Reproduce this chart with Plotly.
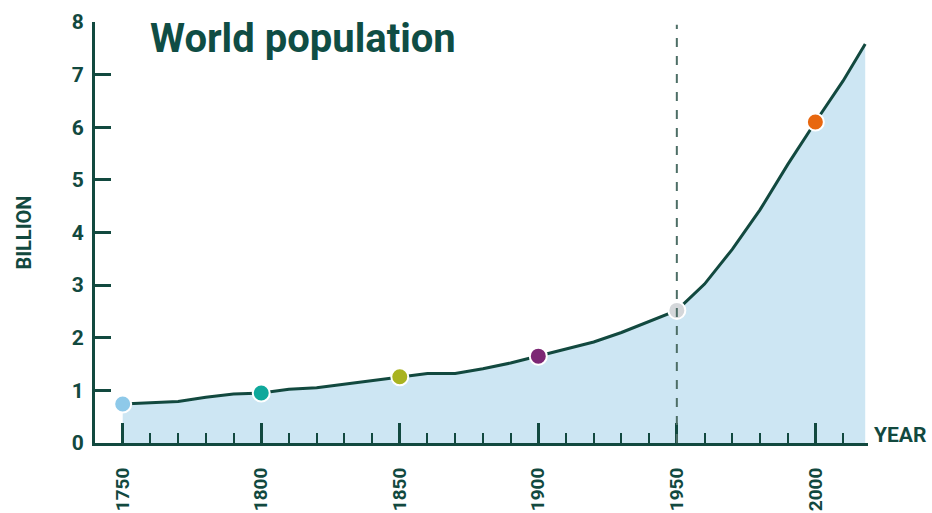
import plotly.graph_objects as go

# World population, billions
years = [1750, 1760, 1770, 1780, 1790, 1800, 1810, 1820, 1830, 1840, 1850,
         1860, 1870, 1880, 1890, 1900, 1910, 1920, 1930, 1940, 1950,
         1960, 1970, 1980, 1990, 2000, 2010, 2018]
population = [0.74, 0.76, 0.79, 0.87, 0.93, 0.95, 1.02, 1.05, 1.12, 1.19, 1.26,
              1.32, 1.32, 1.41, 1.52, 1.65, 1.78, 1.92, 2.10, 2.31, 2.52,
              3.02, 3.68, 4.43, 5.29, 6.10, 6.88, 7.58]

marker_years = [1750, 1800, 1850, 1900, 1950, 2000]
marker_colors = ["#8ec9e9", "#0fa89b", "#a9b320", "#7c2774", "#d4d7da", "#e8670f"]
marker_values = [population[years.index(y)] for y in marker_years]

split_year = 1950
x_ticks = [1750, 1800, 1850, 1900, 1950, 2000]
y_ticks = [0, 1, 2, 3, 4, 5, 6, 7, 8]

DARK = "#12493f"
FONT = "Roboto, Liberation Sans, sans-serif"


def font(size, color=DARK):
    return dict(family=FONT, size=size, color=color, weight="bold")


fig = go.Figure()
fig.add_trace(go.Scatter(
    x=years, y=population, mode="lines",
    line=dict(color=DARK, width=3),
    fill="tozeroy", fillcolor="#cde6f3",
    hoverinfo="x+y", showlegend=False,
))
fig.add_shape(type="line", x0=split_year, x1=split_year, y0=0, y1=7.95,
              xref="x", yref="y", layer="above",
              line=dict(color="#4d6e66", width=2, dash="dash"))
fig.add_trace(go.Scatter(
    x=marker_years, y=marker_values, mode="markers",
    marker=dict(size=17, color=marker_colors, line=dict(color="white", width=2)),
    showlegend=False,
))

fig.update_xaxes(
    range=[1740, 2019], tickvals=x_ticks, tickangle=-90, automargin=False,
    showline=True, linecolor=DARK, linewidth=3,
    ticks="inside", ticklen=20, tickwidth=3, tickcolor=DARK,
    minor=dict(dtick=10, tick0=1750, ticks="inside", ticklen=10, tickwidth=2, tickcolor=DARK),
    ticklabelstandoff=14,
    tickfont=font(19),
    showgrid=False, zeroline=False,
)
fig.update_yaxes(
    range=[0, 8], tickvals=y_ticks, automargin=False,
    showline=True, linecolor=DARK, linewidth=3,
    ticks="inside", ticklen=16, tickwidth=3, tickcolor=DARK,
    ticklabelstandoff=4,
    tickfont=font(21),
    showgrid=False, zeroline=False,
)

fig.add_annotation(text="BILLION", textangle=-90, x=-0.093, y=0.5,
                   xref="paper", yref="paper", xanchor="center", yanchor="middle",
                   showarrow=False, font=font(20))
fig.add_annotation(text="YEAR", x=1, y=0, xref="paper", yref="paper",
                   xanchor="left", yanchor="bottom", xshift=4, yshift=-6, showarrow=False,
                   font=font(21))

fig.update_layout(
    width=932, height=513,
    margin=dict(l=95, r=64, t=22, b=70, autoexpand=False),
    plot_bgcolor="white", paper_bgcolor="white",
    title=dict(text="<b>World population</b>", xref="container", yref="container",
               x=150 / 932, xanchor="left", y=1 - 38 / 513, yanchor="middle",
               font=font(40, "#0f4d44")),
)

fig.write_html("out.html", config={"displayModeBar": False},
               post_script="document.body.style.margin='0';")
